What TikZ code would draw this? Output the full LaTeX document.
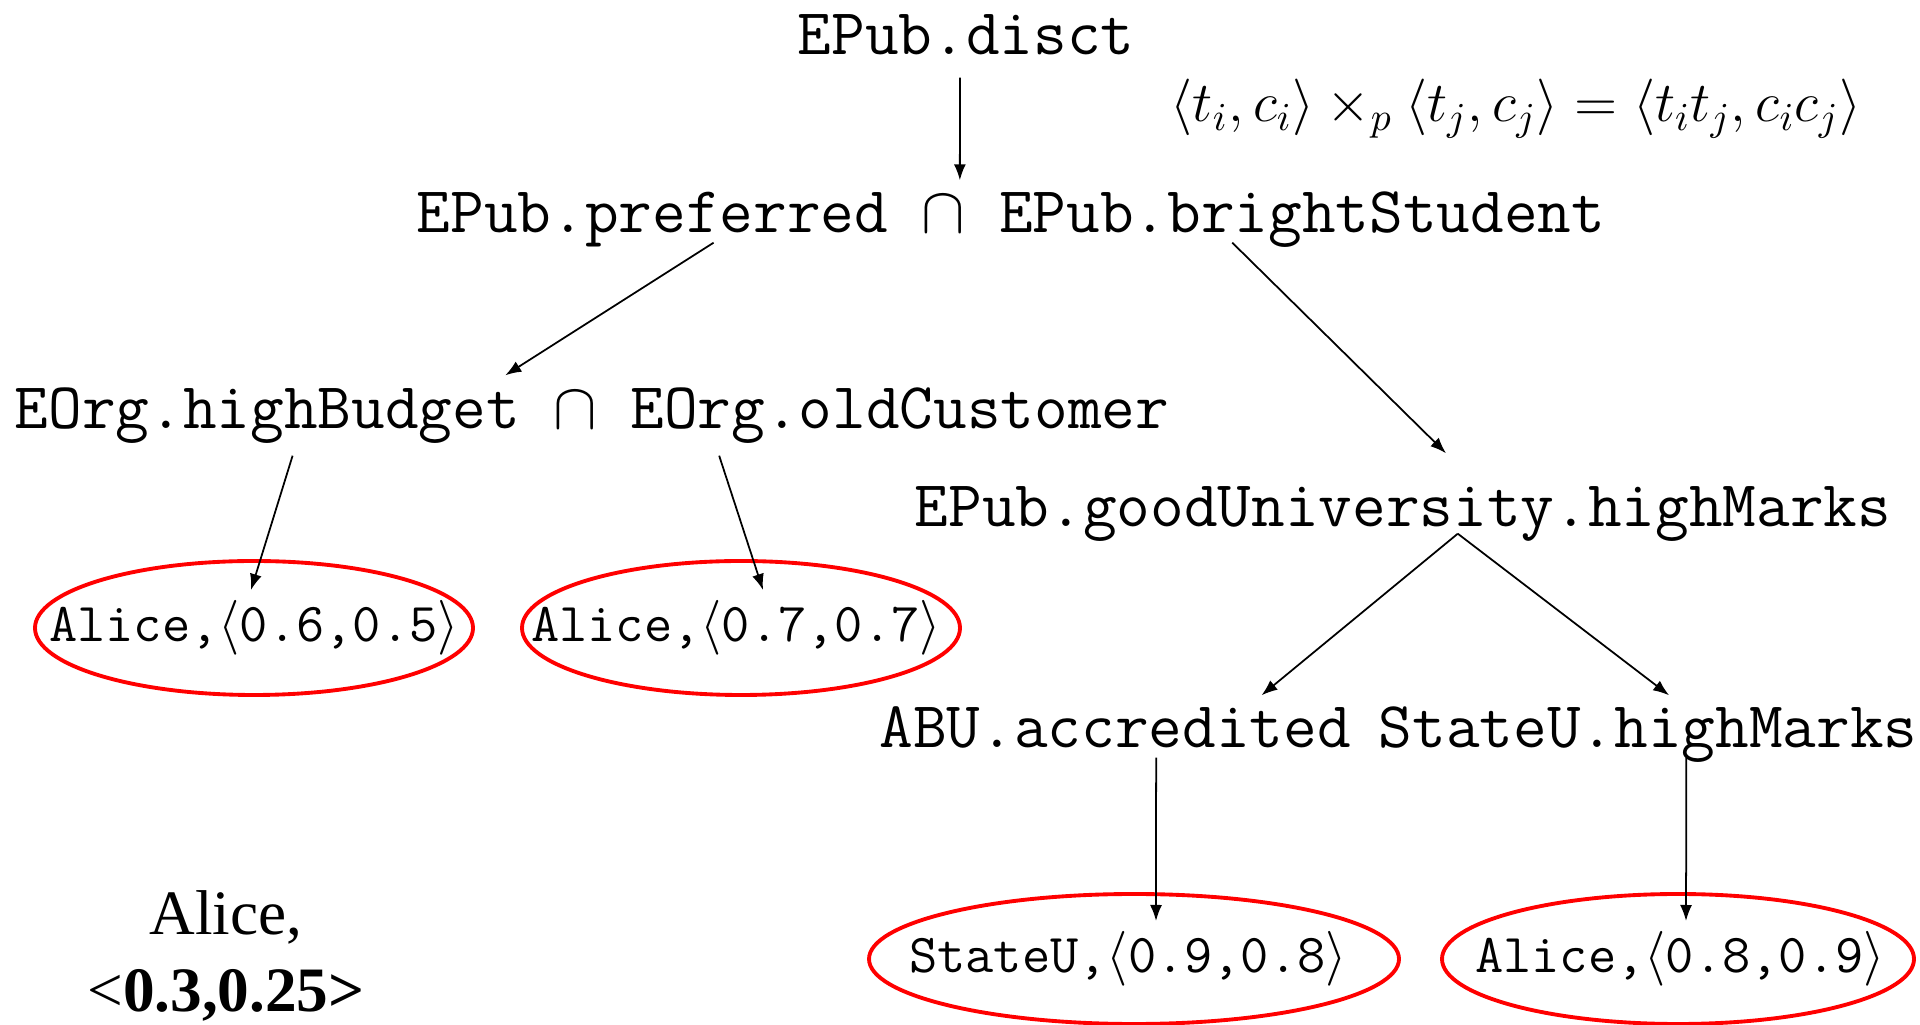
\RequirePackage{fix-cm}
\documentclass[tikz,border=0pt]{standalone}
\usepackage{fontspec}
\newfontfamily\alicefont{Liberation Serif}
\usetikzlibrary{positioning, calc, arrows.meta, shapes}
\tikzset{concept/.style={font=\fontsize{18.6}{22}\selectfont\ttfamily, inner sep=0pt, text height=0.40cm, text depth=0.14cm, anchor=base}}
\tikzset{answer/.style={inner sep=0pt, font=\fontsize{15.6}{18}\selectfont\ttfamily}}
\tikzset{ring/.style={draw=red, line width=1.1pt}}
\tikzset{arr/.style={-{Latex[length=0.16cm,width=0.12cm]}, line width=0.5pt}}

\begin{document}
\begin{tikzpicture}
      \useasboundingbox (0,0) rectangle (19.2,10.25);

      \node[concept] (disct) at (9.66,9.70) {EPub.disct};
      \node[anchor=base, inner sep=0pt, font=\fontsize{16.1}{19}\selectfont] (rule) at (15.16,9.03)
        {$\langle t_i, c_i\rangle \times_p \langle t_j, c_j\rangle = \langle t_i t_j, c_i c_j\rangle$};

      \node[concept] (both) at (10.11,7.92) {EPub.preferred $\cap$ EPub.brightStudent};
      \node[concept] (eorg) at (5.92,5.96) {EOrg.highBudget $\cap$ EOrg.oldCustomer};
      \node[concept] (goodu) at (14.03,4.98) {EPub.goodUniversity.highMarks};
      \node[concept] (abu) at (11.15,2.77) {ABU.accredited};
      \node[concept] (stateu) at (16.48,2.77) {StateU.highMarks};

      \node[answer] (e1) at (2.54,3.97) {Alice,$\big\langle$0.6,0.5$\big\rangle$};
      \node[answer] (e2) at (7.36,3.97) {Alice,$\big\langle$0.7,0.7$\big\rangle$};
      \node[answer] (e3) at (11.28,0.66) {StateU,$\big\langle$0.9,0.8$\big\rangle$};
      \node[answer] (e4) at (16.80,0.66) {Alice,$\big\langle$0.8,0.9$\big\rangle$};
      \draw[ring] (e1.center) ellipse (2.19cm and 0.67cm);
      \draw[ring] (e2.center) ++(0.05,0) ellipse (2.19cm and 0.67cm);
      \draw[ring] (e3.center) ++(0.06,0) ellipse (2.65cm and 0.65cm);
      \draw[ring] (e4.center) ++(-0.02,0) ellipse (2.36cm and 0.65cm);

      \node[align=center, inner sep=0pt, font=\alicefont\fontsize{18}{21.9}\selectfont] (result) at (2.26,0.69)
        {Alice,\\<\textbf{0.3,0.25>}};

      \draw[arr] ($(disct.south west)!0.482!(disct.south east)+(0,-0.08)$) -- ($(both.north west)!0.457!(both.north east)+(0,0.12)$);
      \draw[arr] ($(both.south west)!0.25!(both.south east)+(0,0.05)$) -- ($(eorg.north west)!0.425!(eorg.north east)+(0,0.13)$);
      \draw[arr] ($(both.south west)!0.686!(both.south east)+(0,0.05)$) -- ($(goodu.north west)!0.544!(goodu.north east)+(0,0.33)$);

      \draw[arr] ($(eorg.south west)!0.241!(eorg.south east)+(0,-0.12)$) -- ($(e1.center)+(-0.03,0.38)$);
      \draw[arr] ($(eorg.south west)!0.61!(eorg.south east)+(0,-0.12)$) -- ($(e2.center)+(0.27,0.38)$);

      \draw[arr] ($(goodu.south west)!0.556!(goodu.south east)+(0,0.08)$) -- ($(abu.north west)!0.81!(abu.north east)+(0,0.12)$);
      \draw[arr] ($(goodu.south west)!0.556!(goodu.south east)+(0,0.08)$) -- ($(stateu.north west)!0.539!(stateu.north east)+(0,0.12)$);

      \draw[arr] ($(abu.south west)!0.587!(abu.south east)+(0,0.05)$) -- ($(e3.center)+(0.28,0.38)$);
      \draw[arr] ($(stateu.south west)!0.571!(stateu.south east)+(0,0.05)$) -- ($(e4.center)+(0.06,0.38)$);
\end{tikzpicture}
\end{document}
